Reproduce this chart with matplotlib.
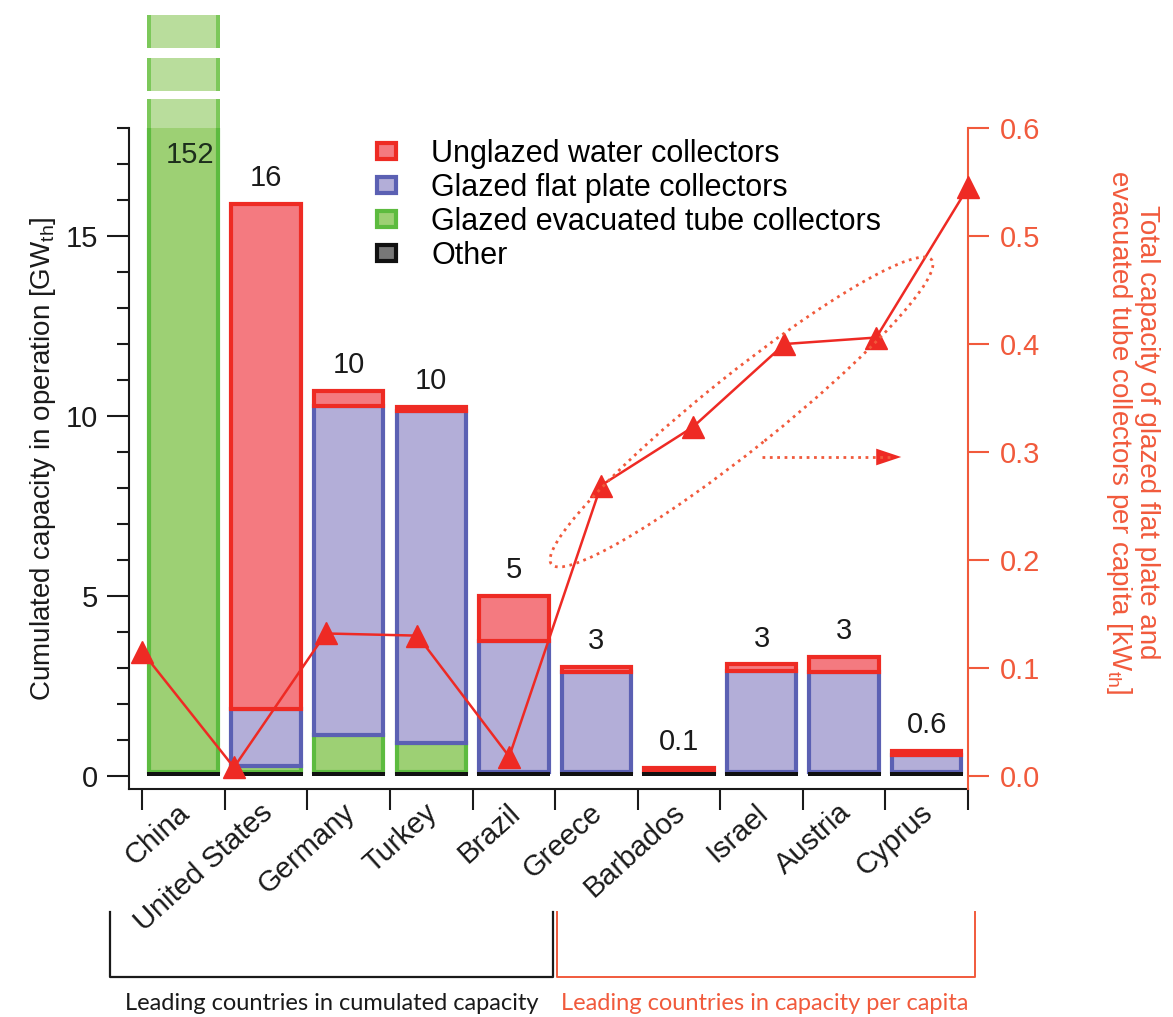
import numpy as np
import matplotlib
matplotlib.use('Agg')
import matplotlib.pyplot as plt
from matplotlib.patches import Patch, Ellipse, FancyArrowPatch
from matplotlib.lines import Line2D
from matplotlib.ticker import MultipleLocator, FixedLocator, FormatStrFormatter
from matplotlib.transforms import ScaledTranslation

plt.rcParams['font.family'] = ['Liberation Sans', 'DejaVu Sans']
plt.rcParams['mathtext.default'] = 'regular'

# data (GW_th, stacked from the bottom)
countries = ['China', 'United States', 'Germany', 'Turkey', 'Brazil',
             'Greece', 'Barbados', 'Israel', 'Austria', 'Cyprus']
other = [0.12, 0.12, 0.12, 0.12, 0.12, 0.12, 0.12, 0.12, 0.12, 0.12]
evacuated = [151.88, 0.15, 1.03, 0.80, 0.0, 0.0, 0.0, 0.0, 0.0, 0.0]
flat_plate = [0.0, 1.58, 9.13, 9.22, 3.62, 2.76, 0.0, 2.81, 2.78, 0.46]
unglazed = [0.0, 14.05, 0.42, 0.11, 1.26, 0.14, 0.10, 0.17, 0.42, 0.12]
total_labels = ['152', '16', '10', '10', '5', '3', '0.1', '3', '3', '0.6']
# kW_th per capita (right axis)
per_capita = [0.115, 0.008, 0.132, 0.130, 0.018, 0.269, 0.323, 0.400, 0.406, 0.545]

RED_EDGE, RED_FILL = '#ee2b24', '#f47a80'
BLUE_EDGE, BLUE_FILL = '#5b60b3', '#b3aed8'
GREEN_EDGE, GREEN_FILL = '#5dbb3f', '#9dd074'
AX_RED = '#f15a3c'
LINE_RED = '#ee2a24'
DARK = '#1a1a1a'

W, H = 1173, 1017
YMAX = 18


def px(x, y):
    # pixel position (from top-left) -> figure fraction
    return x / W, 1 - y / H


fig = plt.figure(figsize=(W / 100, H / 100), dpi=100)
ax = fig.add_axes([129 / W, 1 - 789 / H, (968 - 129) / W, (789 - 128) / H])

x = np.arange(len(countries))
bottom = np.array(other, dtype=float)
ax.bar(x, other, 0.885, color='#111111', linewidth=0, zorder=3)
for vals, fc, ec in [(evacuated, GREEN_FILL, GREEN_EDGE),
                     (flat_plate, BLUE_FILL, BLUE_EDGE),
                     (unglazed, RED_FILL, RED_EDGE)]:
    vals = np.array(vals)
    m = vals > 0
    ax.bar(x[m], vals[m], 0.84, bottom=bottom[m], color=fc, edgecolor=ec,
           linewidth=3, zorder=2)
    bottom = bottom + vals
totals = bottom

# broken China bar above the axis
ext = [(YMAX, 0.8), (YMAX + 1.02, 0.92), (YMAX + 2.22, 0.92)]
for b, h in ext:
    ax.bar(0, h, 0.84, bottom=b, color='#b9dd9c', linewidth=0,
           clip_on=False, zorder=2)
    ax.bar([-0.42, 0.42], h, 0.05, bottom=b, color='#7cc85a', linewidth=0,
           clip_on=False, zorder=2)

for i, (t, lab) in enumerate(zip(totals, total_labels)):
    if t > YMAX:
        ax.text(i + 0.08, YMAX - 0.75, lab, ha='center', va='center',
                fontsize=21, color='#1c2e1c', zorder=5)
    else:
        ax.text(i, t + 0.72, lab, ha='center', va='center', fontsize=21,
                color=DARK, zorder=5)

ax.set_xlim(-0.66, 9.5)
ax.set_ylim(-0.36, YMAX)
ax.yaxis.set_major_locator(FixedLocator([0, 5, 10, 15]))
ax.yaxis.set_minor_locator(MultipleLocator(1))
ax.tick_params(axis='y', which='major', length=16, width=1.5, labelsize=21,
               pad=6, colors=DARK)
ax.tick_params(axis='y', which='minor', length=9, width=1.5, colors=DARK)
ax.set_xticks(x)
ax.set_xticklabels(countries, fontsize=21, color=DARK)
ax.xaxis.set_minor_locator(FixedLocator(np.arange(-0.5, 10, 1)))
ax.tick_params(axis='x', which='major', length=0, pad=9)
ax.tick_params(axis='x', which='minor', length=15, width=1.5, color=DARK)
shift = ScaledTranslation(-0.07, 0.03, fig.dpi_scale_trans)
for lab in ax.get_xticklabels():
    lab.set_rotation(42)
    lab.set_ha('right')
    lab.set_va('top')
    lab.set_rotation_mode('anchor')
    lab.set_transform(lab.get_transform() + shift)
for s in ['top', 'right']:
    ax.spines[s].set_visible(False)
for s in ['left', 'bottom']:
    ax.spines[s].set_linewidth(1.5)
    ax.spines[s].set_color(DARK)
ax.set_ylabel('Cumulated capacity in operation [GW$_{th}$]', fontsize=20,
              color=DARK, labelpad=6)

ax2 = ax.twinx()
ax2.set_ylim(-0.36 * 0.6 / YMAX, 0.6)
ax2.plot(np.linspace(-0.5, 9.5, len(per_capita)), per_capita, '-^',
         color=LINE_RED, lw=1.8, ms=16, clip_on=False, zorder=6)
ax2.yaxis.set_major_locator(MultipleLocator(0.1))
ax2.yaxis.set_major_formatter(FormatStrFormatter('%.1f'))
ax2.tick_params(axis='y', length=15, width=1.5, colors=AX_RED, labelsize=21,
                pad=8)
for s in ['top', 'left', 'bottom']:
    ax2.spines[s].set_visible(False)
ax2.spines['right'].set_color(AX_RED)
ax2.spines['right'].set_linewidth(1.5)
ax2.set_ylabel('Total capacity of glazed flat plate and\n'
               'evacuated tube collectors per capita [kW$_{th}$]',
               rotation=270, fontsize=20, color=AX_RED, linespacing=1.0)
ax2.yaxis.set_label_coords((1160 - 129) / 839, (789 - 432) / 661)

handles = [Patch(facecolor=RED_FILL, edgecolor=RED_EDGE, linewidth=3),
           Patch(facecolor=BLUE_FILL, edgecolor=BLUE_EDGE, linewidth=3),
           Patch(facecolor=GREEN_FILL, edgecolor=GREEN_EDGE, linewidth=3),
           Patch(facecolor='#777777', edgecolor='#111111', linewidth=3)]
labels = ['Unglazed water collectors', 'Glazed flat plate collectors',
          'Glazed evacuated tube collectors', 'Other']
fig.legend(handles, labels, loc='upper left', bbox_to_anchor=px(377, 139),
           frameon=False, fontsize=22, handlelength=0.62, handleheight=0.45,
           handletextpad=1.15, labelspacing=0.13, borderpad=0, borderaxespad=0)

# dotted ellipse and arrow around the per-capita leaders
ell = Ellipse((7.415, (H - 412) / 100), 4.87, 0.74, angle=38.7,
              transform=fig.dpi_scale_trans, fill=False, ls=':', lw=2.0,
              ec=AX_RED, zorder=7)
fig.add_artist(ell)
fig.add_artist(Line2D([7.62, 8.9], [(H - 457) / 100] * 2, ls=':', lw=2.0,
                      color=AX_RED, transform=fig.dpi_scale_trans))
fig.add_artist(FancyArrowPatch((8.8, (H - 457) / 100), (9.04, (H - 457) / 100),
                               transform=fig.dpi_scale_trans,
                               arrowstyle='-|>,head_length=0.9,head_width=0.3',
                               mutation_scale=20, color=LINE_RED, lw=0))

# group brackets under the country names
bx, by = zip(*[px(110, 912), px(110, 977), px(553, 977), px(553, 912)])
fig.add_artist(Line2D(bx, by, color=DARK, lw=1.6))
rx, ry = zip(*[px(557, 912), px(557, 977), px(975, 977), px(975, 912)])
fig.add_artist(Line2D(rx, ry, color=AX_RED, lw=1.4))
fig.text(*px(332, 1003), 'Leading countries in cumulated capacity',
         ha='center', va='center', fontsize=17, family=['Lato', 'DejaVu Sans'],
         color=DARK)
fig.text(*px(765, 1003), 'Leading countries in capacity per capita',
         ha='center', va='center', fontsize=17, family=['Lato', 'DejaVu Sans'],
         color=AX_RED)

fig.savefig('out.png', dpi=100)
